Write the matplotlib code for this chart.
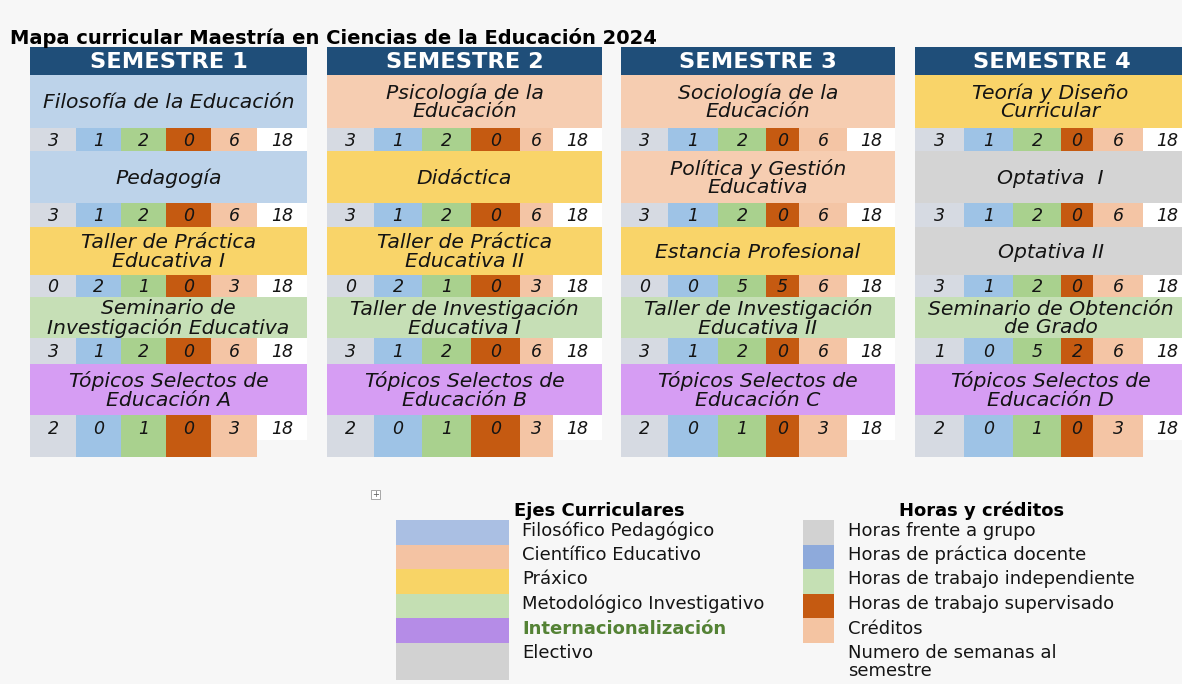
import matplotlib
matplotlib.use('Agg')
import matplotlib.pyplot as plt
from matplotlib.patches import Rectangle

plt.rcParams['font.family'] = ['DejaVu Sans']

TITLE     = 'Mapa curricular Maestría en Ciencias de la Educación 2024'
semesters = ['SEMESTRE 1', 'SEMESTRE 2', 'SEMESTRE 3', 'SEMESTRE 4']

# curricular axes (ejes) and hour/credit columns
ejes  = ['Filosófico Pedagógico', 'Científico Educativo', 'Práxico',
         'Metodológico Investigativo', 'Internacionalización', 'Electivo']
horas = ['Horas frente a grupo', 'Horas de práctica docente',
         'Horas de trabajo independiente', 'Horas de trabajo supervisado',
         'Créditos', 'Numero de semanas al\nsemestre']

subjects_s1 = ['Filosofía de la Educación', 'Pedagogía',
               'Taller de Práctica\nEducativa I',
               'Seminario de\nInvestigación Educativa',
               'Tópicos Selectos de\nEducación A']
subjects_s2 = ['Psicología de la\nEducación', 'Didáctica',
               'Taller de Práctica\nEducativa II',
               'Taller de Investigación\nEducativa I',
               'Tópicos Selectos de\nEducación B']
subjects_s3 = ['Sociología de la\nEducación', 'Política y Gestión\nEducativa',
               'Estancia Profesional',
               'Taller de Investigación\nEducativa II',
               'Tópicos Selectos de\nEducación C']
subjects_s4 = ['Teoría y Diseño\nCurricular', 'Optativa  I', 'Optativa II',
               'Seminario de Obtención\nde Grado',
               'Tópicos Selectos de\nEducación D']

# index into ejes for each subject
eje_s1 = [0, 0, 2, 3, 4]
eje_s2 = [1, 2, 2, 3, 4]
eje_s3 = [1, 1, 2, 3, 4]
eje_s4 = [2, 5, 5, 3, 4]

# frente, práctica, independiente, supervisado, créditos, semanas
hours_s1 = [[3, 1, 2, 0, 6, 18], [3, 1, 2, 0, 6, 18], [0, 2, 1, 0, 3, 18],
            [3, 1, 2, 0, 6, 18], [2, 0, 1, 0, 3, 18]]
hours_s2 = [[3, 1, 2, 0, 6, 18], [3, 1, 2, 0, 6, 18], [0, 2, 1, 0, 3, 18],
            [3, 1, 2, 0, 6, 18], [2, 0, 1, 0, 3, 18]]
hours_s3 = [[3, 1, 2, 0, 6, 18], [3, 1, 2, 0, 6, 18], [0, 0, 5, 5, 6, 18],
            [3, 1, 2, 0, 6, 18], [2, 0, 1, 0, 3, 18]]
hours_s4 = [[3, 1, 2, 0, 6, 18], [3, 1, 2, 0, 6, 18], [3, 1, 2, 0, 6, 18],
            [1, 0, 5, 2, 6, 18], [2, 0, 1, 0, 3, 18]]

subjects = [subjects_s1, subjects_s2, subjects_s3, subjects_s4]
eje_idx  = [eje_s1, eje_s2, eje_s3, eje_s4]
hours    = [hours_s1, hours_s2, hours_s3, hours_s4]

# colours
BG          = '#f7f7f7'
HEADER      = '#1f4e79'
eje_colors  = ['#bdd3ea', '#f6cdb1', '#f9d469', '#c6dfb6', '#d69df3', '#d4d4d4']
eje_swatch  = ['#aabfe3', '#f4c3a3', '#f8d466', '#c4dfb3', '#b58ce7', '#d2d2d2']
cell_colors = ['#d6dae2', '#9ec3e6', '#a9d18e', '#c55a11', '#f4c5a5', '#ffffff']
hora_swatch = ['#d2d2d2', '#8eaadb', '#c5e0b4', '#c55a11', '#f4c4a2']
TEXT        = '#141414'

# layout (pixels)
col_edges = [[30, 76, 121, 166, 211, 257, 307],
             [327, 374, 422, 471, 520, 553, 602],
             [621, 668, 718, 766, 799, 847, 895],
             [915, 964, 1013, 1061, 1093, 1143, 1192]]
HEAD_TOP, HEAD_BOT = 47, 75
subj_top = [75, 151, 227, 297, 364]
subj_bot = [128, 203, 275, 338, 415]
num_bot  = [151, 227, 297, 364, 457]

fig = plt.figure(figsize=(11.82, 6.84), dpi=100)
fig.patch.set_facecolor(BG)
ax = fig.add_axes([0, 0, 1, 1])
ax.set_xlim(0, 1182)
ax.set_ylim(684, 0)
ax.axis('off')

ax.text(10, 38, TITLE, fontsize=14.0, fontweight='bold', va='center', ha='left')

for s, name in enumerate(semesters):
    edges = col_edges[s]
    left, right = edges[0], edges[-1]
    ax.add_patch(Rectangle((left, HEAD_TOP), right - left, HEAD_BOT - HEAD_TOP,
                           facecolor=HEADER, edgecolor='none'))
    xc = (left + right) / 2 if s < 3 else (left + 1182) / 2 + 3
    ax.text(xc, (HEAD_TOP + HEAD_BOT) / 2 + 1, name, color='white',
            fontsize=16.2, fontweight='bold', ha='center', va='center')
    for r in range(5):
        ax.add_patch(Rectangle((left, subj_top[r]), right - left,
                               subj_bot[r] - subj_top[r],
                               facecolor=eje_colors[eje_idx[s][r]], edgecolor='none'))
        sx = (left + right) / 2 if s < 3 else (left + 1182) / 2 + 2
        ax.text(sx, (subj_top[r] + subj_bot[r]) / 2 + 1,
                subjects[s][r], fontsize=14.7, fontstyle='italic',
                ha='center', va='center', linespacing=0.95, color=TEXT)
        last = r == 4
        ytxt = subj_bot[r] + 13 if last else (subj_bot[r] + num_bot[r]) / 2
        for c in range(6):
            bottom = num_bot[r]
            if last and c == 5:
                bottom = subj_bot[r] + 25
            ax.add_patch(Rectangle((edges[c], subj_bot[r]), edges[c + 1] - edges[c],
                                   bottom - subj_bot[r],
                                   facecolor=cell_colors[c], edgecolor='none'))
            ax.text((edges[c] + edges[c + 1]) / 2, ytxt + 1, str(hours[s][r][c]),
                    fontsize=12.5, fontstyle='italic', ha='center', va='center',
                    color=TEXT)

# small "+" handle
ax.add_patch(Rectangle((371, 490), 9, 9, facecolor='white', edgecolor='#999999', lw=0.6))
ax.text(375.5, 494.5, '+', fontsize=6, ha='center', va='center', color='#555555')

# legend: ejes curriculares
STEP = 24.5
LEG  = 13
ax.text(514, 511, 'Ejes Curriculares', fontsize=LEG, fontweight='bold',
        ha='left', va='center')
for i, label in enumerate(ejes):
    y0 = 520 + i * STEP
    h  = 37 if i == len(ejes) - 1 else STEP
    ax.add_patch(Rectangle((396, y0), 113, h, facecolor=eje_swatch[i], edgecolor='none'))
    is_int = label == 'Internacionalización'
    ax.text(522, y0 + 10.5, label, fontsize=LEG, ha='left', va='center',
            color='#548235' if is_int else TEXT,
            fontweight='bold' if is_int else 'normal')

# legend: horas y créditos
ax.text(982, 511, 'Horas y créditos', fontsize=LEG, fontweight='bold',
        ha='center', va='center')
for i, label in enumerate(horas):
    y0 = 520 + i * STEP
    if i < len(hora_swatch):
        ax.add_patch(Rectangle((803, y0), 31, STEP, facecolor=hora_swatch[i],
                               edgecolor='none'))
        ax.text(848, y0 + 10.5, label, fontsize=LEG, ha='left', va='center',
                color=TEXT)
    else:
        ax.text(848, 662, label, fontsize=LEG, ha='left', va='center',
                linespacing=0.98, color=TEXT)

fig.savefig('out.png', dpi=100, facecolor=BG)
